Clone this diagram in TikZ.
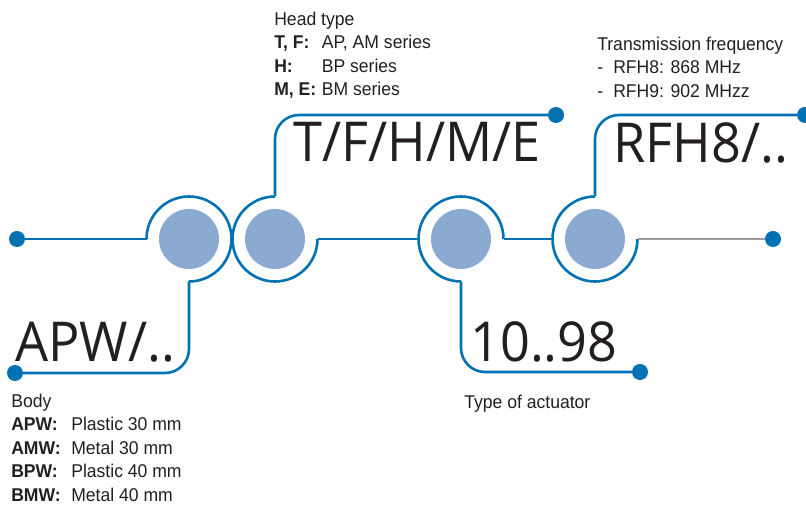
\documentclass[tikz,border=0pt]{standalone}
\usepackage{fontspec}
\setmainfont{Liberation Sans}
\newfontfamily\codefont[FakeStretch=0.95]{Open Sans}
\newfontfamily\notefont[FakeStretch=0.95]{Liberation Sans}
\definecolor{linkblue}{RGB}{0,113,179}
\definecolor{beadblue}{RGB}{138,170,209}
\definecolor{wiregray}{RGB}{155,155,158}
\definecolor{inkblack}{RGB}{35,31,32}
\begin{document}
\begin{tikzpicture}[x=1pt, y=1pt, line width=2.6pt, draw=linkblue,
  bead node/.style={circle,fill=beadblue,minimum size=60pt,inner sep=0pt},
  ring node/.style={circle,minimum size=85pt,inner sep=0pt,outer sep=0pt},
  end dot/.style={circle,fill=linkblue,minimum size=16pt,inner sep=0pt,outer sep=0pt},
  code text/.style={font=\codefont\fontsize{55}{55}\selectfont,text=inkblack,inner sep=0pt,anchor=base west},
  note text/.style={font=\notefont\fontsize{18.5}{23.5}\selectfont,text=inkblack,inner sep=0pt,anchor=north west,align=left}]%
\useasboundingbox (0,0) rectangle (806,508);
% beads and the rings round them
\node[ring node] (r1) at (189,269) {};
\node[ring node] (r2) at (275,269) {};
\node[ring node] (r3) at (461,269) {};
\node[ring node] (r4) at (595,269) {};
\node[bead node] (b1) at (r1) {};
\node[bead node] (b2) at (r2) {};
\node[bead node] (b3) at (r3) {};
\node[bead node] (b4) at (r4) {};
\draw[linkblue] (r1.180) arc[start angle=180, end angle=-90, radius=42.5];
\draw[linkblue] (r2.90) arc[start angle=90, end angle=360, radius=42.5];
\draw[linkblue] (r3.0) arc[start angle=0, end angle=270, radius=42.5];
\draw[linkblue] (r4.90) arc[start angle=90, end angle=360, radius=42.5];
% end dots
\node[end dot] (d1) at (17,269) {};
\node[end dot] (d2) at (15,135) {};
\node[end dot] (d3) at (556,393) {};
\node[end dot] (d4) at (805,393) {};
\node[end dot] (d5) at (640,136) {};
\node[end dot] (d6) at (773,269) {};
% connectors
\begin{scope}[every edge/.style={draw=linkblue,line width=2.6pt}]
\draw (d1) edge (r1.west);
\draw (r2.east) edge (r3.west);
\draw (r3.east) edge (r4.west);
\end{scope}
\begin{scope}[rounded corners=24pt]
\draw[linkblue] (r1.south) |- (d2);
\draw[linkblue] (r2.north) |- (d3);
\draw[linkblue] (r3.south) |- (d5);
\draw[linkblue] (r4.north) |- (d4);
\end{scope}
\draw[wiregray] (r4.east) -- (d6);
% codes
\node[code text] (c1) at (14,146) {APW/..};
\node[code text] (c2) at (292,346) {T/F/H/M/E};
\node[code text] (c3) at (469,146) {10..98};
\node[code text] (c4) at (612,345) {RFH8/..};
% notes
\node[note text] (n1) at (273,497.5) {Head type\\
  \makebox[47.5pt][l]{\textbf{T, F:}}AP, AM series\\
  \makebox[47.5pt][l]{\textbf{H:}}BP series\\
  \makebox[47.5pt][l]{\textbf{M, E:}}BM series};
\node[note text] (n2) at (10,115.5) {Body\\
  \makebox[60pt][l]{\textbf{APW:}}Plastic 30 mm\\
  \makebox[60pt][l]{\textbf{AMW:}}Metal 30 mm\\
  \makebox[60pt][l]{\textbf{BPW:}}Plastic 40 mm\\
  \makebox[60pt][l]{\textbf{BMW:}}Metal 40 mm};
\node[note text] (n3) at (596,472.5) {Transmission frequency\\
  \makebox[16pt][l]{-}RFH8: 868 MHz\\
  \makebox[16pt][l]{-}RFH9: 902 MHzz};
\node[note text] (n4) at (463,114.5) {Type of actuator};
\end{tikzpicture}
\end{document}
